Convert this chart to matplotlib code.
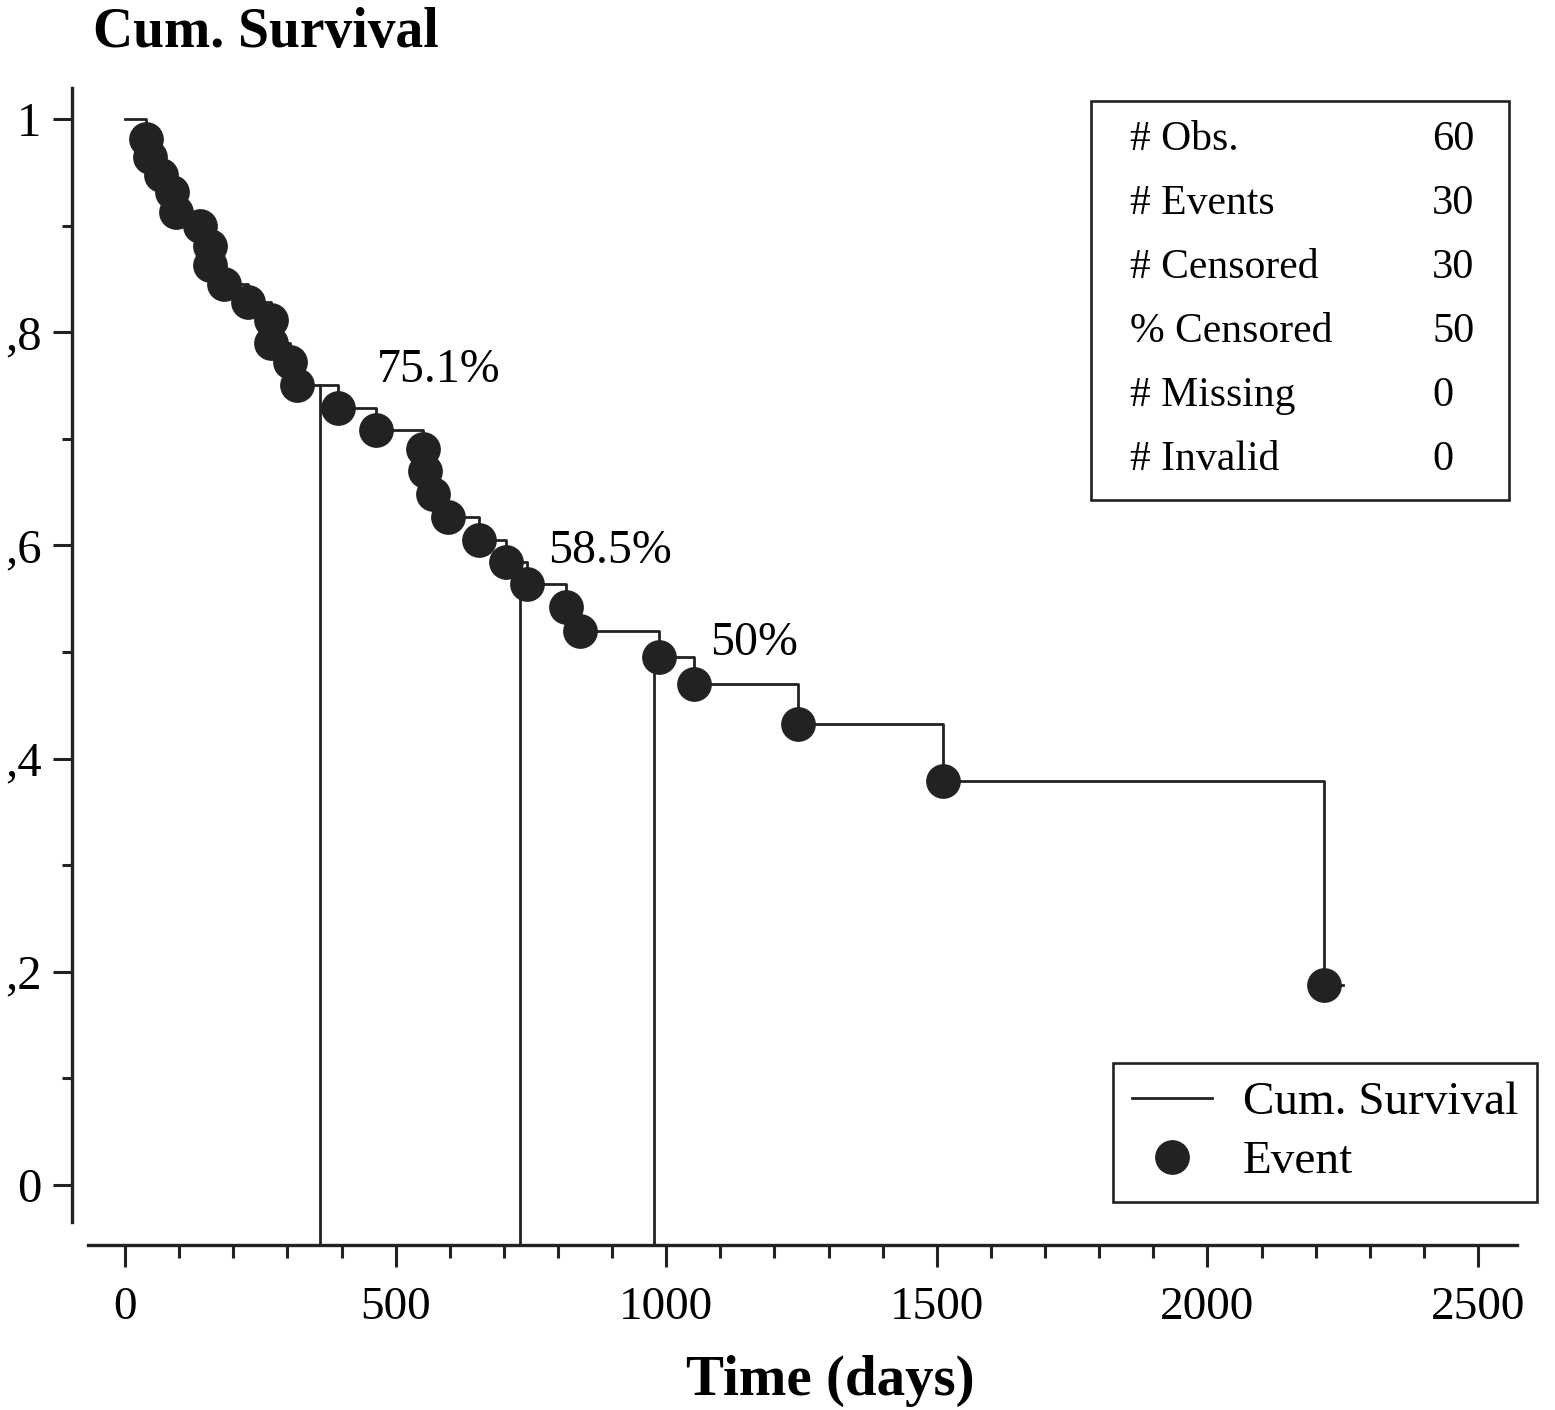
import numpy as np
import matplotlib
matplotlib.use("Agg")
import matplotlib.pyplot as plt
from matplotlib.lines import Line2D
from matplotlib.patches import Rectangle

plt.rcParams['font.family'] = ['Liberation Serif', 'DejaVu Serif']

# event times (days) and cumulative survival after each event
event_times = [39, 46, 66, 87, 94, 139, 157, 157, 183, 227, 270, 270, 305, 318,
               394, 464, 551, 554, 569, 597, 654, 704, 743, 815, 841, 987, 1051,
               1244, 1511, 2215]
event_surv = [0.981, 0.964, 0.947, 0.931, 0.913, 0.900, 0.881, 0.863, 0.845,
              0.828, 0.811, 0.790, 0.772, 0.750, 0.729, 0.708, 0.690, 0.670,
              0.648, 0.627, 0.605, 0.584, 0.564, 0.542, 0.520, 0.495, 0.470,
              0.432, 0.379, 0.188]
last_followup = 2250

# survival marks (1 yr, 2 yr, median)
mark_times = [360, 730, 978]
mark_surv = [0.751, 0.585, 0.50]
mark_labels = ['75.1%', '58.5%', '50%']

stat_labels = ['# Obs.', '# Events', '# Censored', '% Censored', '# Missing', '# Invalid']
stat_values = ['60', '30', '30', '50', '0', '0']

W, H = 1555, 1410
fig = plt.figure(figsize=(W / 100, H / 100), dpi=100)
ax = fig.add_axes([72 / W, (H - 1245) / H, (1517 - 72) / W, (1245 - 88) / H])

col = '#222222'
xs = [0] + event_times + [last_followup]
ys = [1.0] + event_surv + [event_surv[-1]]
ax.plot(xs, ys, drawstyle='steps-post', color=col, lw=2.0)
ax.plot(event_times, event_surv, 'o', color=col, ms=24, zorder=3)

ax.set_xlim(-98, 2572)
ax.set_ylim(-0.0563, 1.029)
ax.vlines(mark_times, ax.get_ylim()[0], mark_surv, color=col, lw=2.0)

label_pos = [(377, 370), (548, 551), (710, 643)]
for (px, py), lab in zip(label_pos, mark_labels):
    fig.text(px / W, 1 - py / H, lab, fontsize=34.5, va='center', ha='left')

for side in ['top', 'right']:
    ax.spines[side].set_visible(False)
for side in ['left', 'bottom']:
    ax.spines[side].set_linewidth(2.4)
    ax.spines[side].set_color(col)
ax.spines['bottom'].set_bounds(-68, 2572)
ax.spines['left'].set_bounds(-0.035, 1.029)

ax.set_xticks(np.arange(0, 2501, 500))
ax.set_xticks(np.arange(0, 2501, 100), minor=True)
ax.set_yticks(np.arange(0, 1.01, 0.2))
ax.set_yticks(np.arange(0.1, 1.0, 0.2), minor=True)
ax.set_yticklabels(['0', ',2', ',4', ',6', ',8', '1'])
ax.tick_params(axis='x', which='major', length=16, width=2.2, pad=14,
               labelsize=34, color=col)
ax.tick_params(axis='x', which='minor', length=9, width=2.2, color=col)
ax.tick_params(axis='y', which='major', length=14, width=2.2, pad=8,
               labelsize=35, color=col)
ax.tick_params(axis='y', which='minor', length=7, width=2.2, color=col)

fig.text(93 / W, 1 - 33 / H, 'Cum. Survival', fontsize=40, fontweight='bold',
         va='center', ha='left')
fig.text(830 / W, 1 - 1381 / H, 'Time (days)', fontsize=41, fontweight='bold',
         va='center', ha='center')

# statistics box
fig.patches.append(Rectangle((1091 / W, 1 - 500 / H), (1509 - 1091) / W, (500 - 101) / H,
                             transform=fig.transFigure, fill=False, lw=1.9,
                             edgecolor=col))
for i, (lab, val) in enumerate(zip(stat_labels, stat_values)):
    y = 1 - (140 + 64 * i) / H
    fig.text(1130 / W, y, lab, fontsize=30, va='center', ha='left')
    fig.text(1432 / W, y, val, fontsize=30.5, va='center', ha='left')

handles = [Line2D([], [], color=col, lw=2.0),
           Line2D([], [], marker='o', ls='none', color=col, ms=24)]
leg = ax.legend(handles, ['Cum. Survival', 'Event'], loc='lower right',
                bbox_to_anchor=(1537 / W, 1 - 1202 / H),
                bbox_transform=fig.transFigure, borderaxespad=0,
                fontsize=34, frameon=True, fancybox=False, edgecolor=col,
                framealpha=1, handlelength=1.7, handletextpad=0.65,
                labelspacing=0.33, borderpad=0.4)
leg.get_frame().set_linewidth(1.9)

fig.savefig('out.png', dpi=100)
